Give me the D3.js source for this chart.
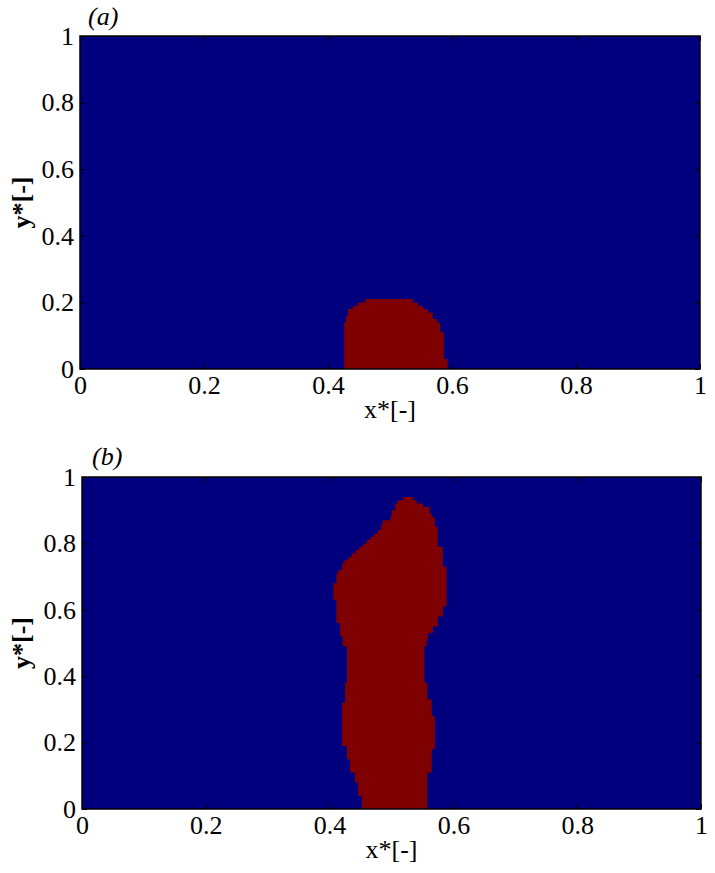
<!DOCTYPE html>
<html>
<head>
<meta charset="utf-8">
<script src="https://cdn.jsdelivr.net/npm/d3@7"></script>
<style>
  body { margin: 0; background: #fff; }
</style>
</head>
<body>
<svg id="chart" width="715" height="873"></svg>
<script>
// grid row height of the phase field (y*)
const rowStep = 0.01
const axisTicks = [0, 0.2, 0.4, 0.6, 0.8, 1]
const tickLabels = ['0', '0.2', '0.4', '0.6', '0.8', '1']

// panel (a): left / right edge of the red phase, one value per row from y*=0
const aLeft = [0.426, 0.426, 0.426, 0.426, 0.426, 0.426, 0.426, 0.426, 0.426, 0.426, 0.426,
  0.426, 0.426, 0.426, 0.429, 0.429, 0.432, 0.432, 0.440, 0.448, 0.460]
const aRight = [0.593, 0.593, 0.593, 0.587, 0.587, 0.587, 0.587, 0.587, 0.587, 0.587, 0.587,
  0.581, 0.581, 0.581, 0.576, 0.569, 0.569, 0.561, 0.553, 0.545, 0.537]

// panel (b)
const bLeft = [0.452, 0.452, 0.452, 0.452, 0.446, 0.446, 0.446, 0.446, 0.441, 0.441, 0.441,
  0.433, 0.433, 0.433, 0.433, 0.428, 0.428, 0.428, 0.428,
  0.420, 0.420, 0.420, 0.420, 0.420, 0.420, 0.420, 0.420, 0.420, 0.420, 0.420, 0.420, 0.420,
  0.425, 0.425, 0.425, 0.425, 0.425, 0.425,
  0.428, 0.428, 0.428, 0.428, 0.428, 0.428, 0.428, 0.428, 0.428, 0.428, 0.428,
  0.421, 0.421, 0.421, 0.417, 0.417, 0.417, 0.417,
  0.411, 0.411, 0.411, 0.411, 0.411, 0.411, 0.411,
  0.406, 0.406, 0.406, 0.406, 0.406, 0.411, 0.411, 0.411, 0.414, 0.420, 0.420,
  0.424, 0.430, 0.436, 0.442, 0.448, 0.454, 0.460, 0.466, 0.472, 0.478, 0.483,
  0.484, 0.486, 0.498, 0.500, 0.500, 0.506, 0.506, 0.510, 0.519]
const bRight = [0.558, 0.558, 0.558, 0.558, 0.558, 0.558, 0.558, 0.558, 0.558, 0.558, 0.558,
  0.565, 0.565, 0.565, 0.565, 0.565, 0.565, 0.565,
  0.570, 0.570, 0.570, 0.570, 0.570, 0.570, 0.570, 0.570, 0.570, 0.570,
  0.565, 0.565, 0.565, 0.565, 0.565, 0.558, 0.558, 0.558, 0.558, 0.558,
  0.553, 0.553, 0.553, 0.553, 0.553, 0.553, 0.553, 0.553, 0.553, 0.553, 0.553,
  0.557, 0.557, 0.559, 0.559, 0.567, 0.567, 0.575, 0.575, 0.575, 0.583, 0.583, 0.583,
  0.589, 0.589, 0.589, 0.589, 0.589, 0.589, 0.589, 0.589, 0.589, 0.589, 0.589, 0.589,
  0.583, 0.583, 0.583, 0.583, 0.583, 0.583, 0.575, 0.575, 0.575, 0.575, 0.575, 0.575,
  0.570, 0.570, 0.570, 0.565, 0.562, 0.562, 0.551, 0.541, 0.535]

const blue = '#00007f'
const red = '#7f0000'
const fontSize = 26
const serif = 'Liberation Serif'

const svg = d3.select('#chart')

const panels = [
  { title: '(a)', left: aLeft, right: aRight, box: { x0: 80, x1: 700, y0: 36, y1: 369 }, titleX: 88, titleY: 25 },
  { title: '(b)', left: bLeft, right: bRight, box: { x0: 82, x1: 701, y0: 477, y1: 809 }, titleX: 92, titleY: 465 }
]

panels.forEach(p => {
  const x = d3.scaleLinear().domain([0, 1]).range([p.box.x0, p.box.x1])
  const y = d3.scaleLinear().domain([0, 1]).range([p.box.y1, p.box.y0])
  const g = svg.append('g')

  // background (blue phase)
  g.append('rect')
    .attr('x', x(0)).attr('y', y(1))
    .attr('width', x(1) - x(0)).attr('height', y(0) - y(1))
    .attr('fill', blue)

  // red phase outline, staircase built row by row
  const pts = []
  p.left.forEach((v, i) => {
    pts.push([v, i * rowStep])
    pts.push([v, (i + 1) * rowStep])
  })
  for (let i = p.right.length - 1; i >= 0; i--) {
    pts.push([p.right[i], (i + 1) * rowStep])
    pts.push([p.right[i], i * rowStep])
  }
  const line = d3.line().x(d => x(d[0])).y(d => y(d[1]))
  g.append('path')
    .attr('d', line(pts) + 'Z')
    .attr('fill', red)

  // axes, ticks point inward
  const bottom = d3.axisBottom(x).tickValues(axisTicks).tickFormat((d, i) => tickLabels[i])
    .tickSize(-5).tickPadding(7)
  const left = d3.axisLeft(y).tickValues(axisTicks).tickFormat((d, i) => tickLabels[i])
    .tickSize(-5).tickPadding(6)
  const top = d3.axisTop(x).tickValues(axisTicks).tickFormat('').tickSize(-5)
  const right = d3.axisRight(y).tickValues(axisTicks).tickFormat('').tickSize(-5)

  g.append('g').attr('transform', `translate(0,${p.box.y1})`).call(bottom)
  g.append('g').attr('transform', `translate(${p.box.x0},0)`).call(left)
  g.append('g').attr('transform', `translate(0,${p.box.y0})`).call(top)
  g.append('g').attr('transform', `translate(${p.box.x1},0)`).call(right)

  g.selectAll('.domain').remove()
  g.selectAll('.tick line').attr('stroke', '#000').attr('stroke-width', 1)
  g.selectAll('.tick text')
    .attr('fill', '#000')
    .attr('font-family', serif)
    .attr('font-size', fontSize)

  // frame
  g.append('rect')
    .attr('x', x(0)).attr('y', y(1))
    .attr('width', x(1) - x(0)).attr('height', y(0) - y(1))
    .attr('fill', 'none')
    .attr('stroke', '#000')
    .attr('stroke-width', 1.5)

  g.append('text')
    .attr('x', (p.box.x0 + p.box.x1) / 2)
    .attr('y', p.box.y1 + 49)
    .attr('text-anchor', 'middle')
    .attr('font-family', serif)
    .attr('font-size', fontSize)
    .text('x*[-]')

  g.append('text')
    .attr('transform', `translate(30,${(p.box.y0 + p.box.y1) / 2}) rotate(-90)`)
    .attr('text-anchor', 'middle')
    .attr('font-family', serif)
    .attr('font-size', fontSize)
    .attr('font-weight', 'bold')
    .text('y*[-]')

  g.append('text')
    .attr('x', p.titleX)
    .attr('y', p.titleY)
    .attr('font-family', serif)
    .attr('font-size', fontSize)
    .attr('font-style', 'italic')
    .text(p.title)
})
</script>
</body>
</html>
